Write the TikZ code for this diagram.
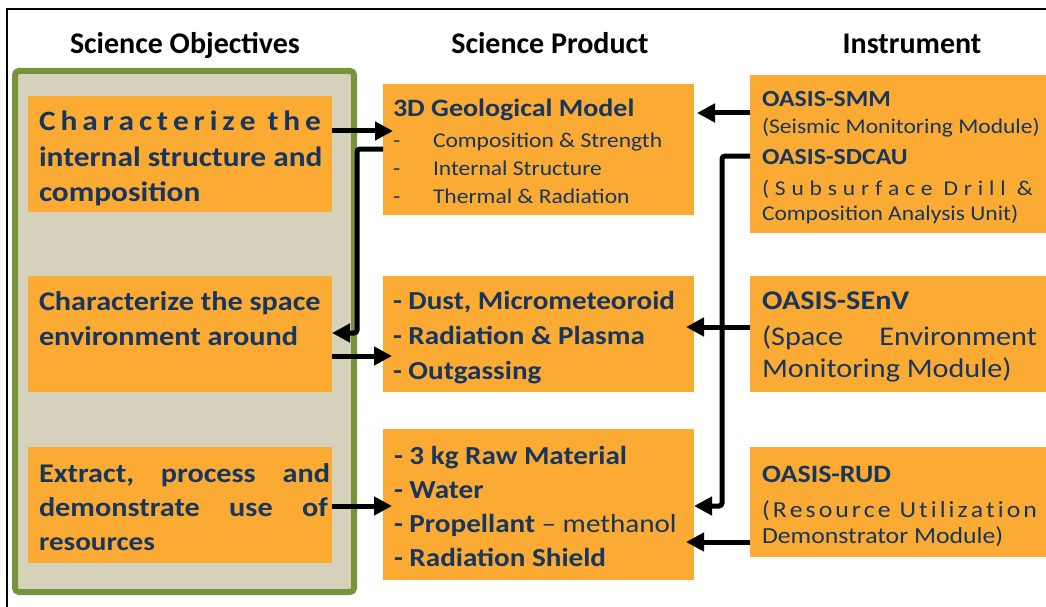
\documentclass[tikz,border=0pt]{standalone}
\usepackage{fontspec}
\setmainfont{Carlito}
\newfontfamily\bx{Carlito}[FakeStretch=1.12]
\usetikzlibrary{arrows.meta}
\definecolor{orng}{RGB}{251,170,51}
\definecolor{navy}{RGB}{23,54,93}
\definecolor{beige}{RGB}{214,209,186}
\definecolor{grn}{RGB}{119,147,60}
\newcommand\fsz[1]{\fontsize{#1}{#1}\selectfont}
\def\lspread#1{\lspreadB#1\relax}
\def\lspreadB#1{#1\lspreadA}
\def\lspreadA#1{\ifx\relax#1\else\hfil#1\expandafter\lspreadA\fi}
\begin{document}
\begin{tikzpicture}[x=1pt,y=-1pt,
  box/.style={fill=orng,draw=none,inner sep=0pt,outer sep=0pt,anchor=north west},
  tx/.style={anchor=base west,inner sep=0pt,outer sep=0pt,text=navy},
  hd/.style={anchor=base,inner sep=0pt,font=\bfseries\fsz{30}},
  arr/.style={line width=5pt,-{Triangle[length=18pt,width=18pt]}},
  elb/.style={arr,rounded corners=3pt}]
\clip (0,0) rectangle (1046,607);
\fill[white] (0,0) rectangle (1046,607);
\draw[line width=1.5pt] (7,9) rectangle (1080,640);
% headers
\node[hd] (h1) at (185,54) {Science Objectives};
\node[hd] (h2) at (550,54) {Science Product};
\node[hd] (h3) at (912,54) {Instrument};
% green panel
\draw[line width=6pt,draw=grn,fill=beige,rounded corners=4pt] (15,71) rectangle (354,592);
% boxes
\node[box,minimum width=304pt,minimum height=116pt] (o1) at (28,96) {};
\node[box,minimum width=304pt,minimum height=116pt] (o2) at (28,276) {};
\node[box,minimum width=304pt,minimum height=116pt] (o3) at (28,447) {};
\node[box,minimum width=311pt,minimum height=131pt] (pA) at (383,84) {};
\node[box,minimum width=311pt,minimum height=116pt] (pB) at (383,276) {};
\node[box,minimum width=311pt,minimum height=151pt] (pC) at (383,429) {};
\node[box,minimum width=320pt,minimum height=158pt] (i1) at (750,75) {};
\node[box,minimum width=320pt,minimum height=116pt] (i2) at (750,276) {};
\node[box,minimum width=320pt,minimum height=110pt] (i3) at (750,447) {};
% objective texts
\node[tx,font=\bx\bfseries\fsz{28}] (o1a) at (39,131) {\makebox[282pt][s]{\lspread{Characterize}\hfil\ \lspread{the}}};
\node[tx,font=\bx\bfseries\fsz{28}] (o1b) at (39,166) {internal structure and};
\node[tx,font=\bx\bfseries\fsz{28}] (o1c) at (39,201) {composition};
\node[tx,font=\bx\bfseries\fsz{27}] (o2a) at (39,310) {Characterize the space};
\node[tx,font=\bx\bfseries\fsz{27}] (o2b) at (39,345) {environment around};
\node[tx,font=\bx\bfseries\fsz{27}] (o3a) at (39,482) {\makebox[291pt][s]{Extract,\hfil\ process\hfil\ and}};
\node[tx,font=\bx\bfseries\fsz{27}] (o3b) at (39,516) {\makebox[289pt][s]{demonstrate\hfil\ use\hfil\ of}};
\node[tx,font=\bx\bfseries\fsz{26}] (o3c) at (39,550) {resources};
% product A
\node[tx,font=\bx\bfseries\fsz{25}] (pAa) at (393,117) {3D Geological Model};
\node[tx,font=\bx\fsz{21}] (pAd1) at (393,147) {-};
\node[tx,font=\bx\fsz{21}] (pAb) at (433,147) {Composition \& Strength};
\node[tx,font=\bx\fsz{21}] (pAd2) at (393,175) {-};
\node[tx,font=\bx\fsz{21}] (pAc) at (433,175) {Internal Structure};
\node[tx,font=\bx\fsz{21}] (pAd3) at (393,203) {-};
\node[tx,font=\bx\fsz{21}] (pAe) at (433,203) {Thermal \& Radiation};
% product B
\node[tx,font=\bx\bfseries\fsz{26}] (pBa) at (393,309) {- Dust, Micrometeoroid};
\node[tx,font=\bx\bfseries\fsz{26}] (pBb) at (393,344) {- Radiation \& Plasma};
\node[tx,font=\bx\bfseries\fsz{26}] (pBc) at (393,379) {- Outgassing};
% product C
\node[tx,font=\bx\bfseries\fsz{26}] (pCa) at (394,464) {- 3 kg Raw Material};
\node[tx,font=\bx\bfseries\fsz{26}] (pCb) at (394,498) {- Water};
\node[tx,font=\bx\bfseries\fsz{26}] (pCc) at (394,532) {- Propellant {\mdseries – methanol}};
\node[tx,font=\bx\bfseries\fsz{26}] (pCd) at (394,566) {- Radiation Shield};
% instrument 1
\node[tx,font=\bx\bfseries\fsz{23}] (i1a) at (762,107) {OASIS-SMM};
\node[tx,font=\bx\fsz{21}] (i1b) at (762,133) {(Seismic Monitoring Module)};
\node[tx,font=\bx\bfseries\fsz{23}] (i1c) at (762,164) {OASIS-SDCAU};
\node[tx,font=\bx\fsz{21}] (i1d) at (762,195) {\makebox[271pt][s]{\lspread{(Subsurface}\hfil\ \lspread{Drill}\hfil\ \&}};
\node[tx,font=\bx\fsz{21}] (i1e) at (762,220) {Composition Analysis Unit)};
% instrument 2
\node[tx,font=\bx\bfseries\fsz{27}] (i2a) at (762,309) {OASIS-SEnV};
\node[tx,font=\bx\fsz{27}] (i2b) at (762,345) {\makebox[275pt][s]{(Space\hfil\ Environment}};
\node[tx,font=\bx\fsz{27}] (i2c) at (762,377) {Monitoring Module)};
% instrument 3
\node[tx,font=\bx\bfseries\fsz{25}] (i3a) at (762,482) {OASIS-RUD};
\node[tx,font=\bx\fsz{23}] (i3b) at (762,517) {\makebox[275pt][s]{\lspread{(Resource}\hfil\ \lspread{Utilization}}};
\node[tx,font=\bx\fsz{23}] (i3c) at (762,543) {Demonstrator Module)};
% arrows
\draw[arr,shorten >=-10pt] (o1.east |- 0,131) -- (pA.west |- 0,131);
\draw[elb] (pA.west |- 0,149) -- (357,149) -- (357,333) -- (o2.east |- 0,333);
\draw[arr,shorten >=-9pt] (o2.east |- 0,356) -- (pB.west |- 0,356);
\draw[arr,shorten >=-9pt] (o3.east |- 0,506) -- (pC.west |- 0,506);
\draw[arr,shorten >=3pt] (i1.west |- 0,113) -- (pA.east |- 0,113);
\draw[elb] (i1.west |- 0,156) -- (722,156) -- (722,506) -- (pC.east |- 0,506);
\draw[arr,shorten >=-8pt] (i2.west |- 0,327) -- (pB.east |- 0,327);
\draw[arr,shorten >=-8pt] (i3.west |- 0,542) -- (pC.east |- 0,542);
\end{tikzpicture}
\end{document}
